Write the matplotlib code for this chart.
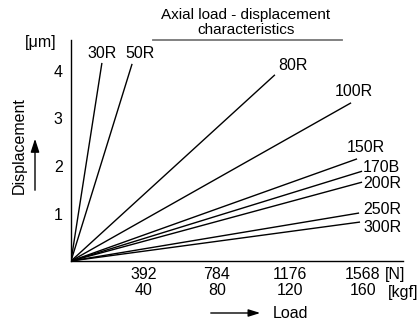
import matplotlib
matplotlib.use("Agg")
import matplotlib.pyplot as plt

# ---- data ----
series = ["30R", "50R", "80R", "100R", "150R", "170B", "200R", "250R", "300R"]
load_end = [166, 328, 1095, 1504, 1536, 1563, 1563, 1547, 1552]      # N
disp_end = [4.17, 4.15, 3.92, 3.33, 2.15, 1.89, 1.66, 1.01, 0.82]     # um
xtick_n = [392, 784, 1176, 1568]
xtick_kgf = [40, 80, 120, 160]
ytick_vals = [1, 2, 3, 4]

# ---- layout ----
W, H = 418, 320
FS = 11.5
plt.rcParams['font.family'] = ['Liberation Sans', 'DejaVu Sans']
fig = plt.figure(figsize=(W / 100, H / 100), dpi=100)

def fx(px): return px / W
def fy(py): return 1 - py / H

x0, y0, x1, y1 = 71, 261, 403, 40
ax = fig.add_axes([fx(x0), fy(y0), fx(x1) - fx(x0), fy(y1) - fy(y0)])
xmax = (x1 - x0) / 73 * 392
ymax = (y0 - y1) / 47.5
ax.set_xlim(0, xmax)
ax.set_ylim(0, ymax)
for s in ("top", "right"):
    ax.spines[s].set_visible(False)
for s in ("left", "bottom"):
    ax.spines[s].set_linewidth(1.0)

for name, lx, ly in zip(series, load_end, disp_end):
    ax.plot([0, lx], [0, ly], color="black", lw=1.0, solid_capstyle="butt")

ax.set_yticks(ytick_vals)
ax.set_yticklabels([str(v) for v in ytick_vals], fontsize=FS)
ax.tick_params(axis="y", length=0, pad=6)
ax.set_xticks(xtick_n)
ax.set_xticklabels([f"{n}\n{k}" for n, k in zip(xtick_n, xtick_kgf)], fontsize=FS,
                   linespacing=1.1)
ax.tick_params(axis="x", length=0, pad=4)

# series labels (pixel positions)
label_pos = {
    "30R": (102, 53, "center"), "50R": (140, 53, "center"),
    "80R": (293, 65, "center"), "100R": (354, 92, "center"),
    "150R": (366, 147, "center"), "170B": (363, 167, "left"),
    "200R": (363, 184, "left"), "250R": (363, 209, "left"),
    "300R": (363, 227, "left"),
}
for name in series:
    px, py, ha = label_pos[name]
    fig.text(fx(px), fy(py), name, ha=ha, va="center", fontsize=FS)

# units
fig.text(fx(41), fy(42), "[μm]", ha="center", va="center", fontsize=FS)
fig.text(fx(385), fy(275), "[N]", ha="left", va="center", fontsize=FS)
fig.text(fx(388), fy(293), "[kgf]", ha="left", va="center", fontsize=FS)

# title with underline
fig.text(fx(246), fy(15), "Axial load - displacement", ha="center", va="center", fontsize=11)
fig.text(fx(246), fy(30), "characteristics", ha="center", va="center", fontsize=11)
fig.add_artist(plt.Line2D([fx(153), fx(342)], [fy(40), fy(40)], color="#777777", lw=1.3))

# axis labels with arrows
fig.text(fx(19), fy(146), "Displacement", rotation=90, ha="center", va="center", fontsize=FS)
fig.add_artist(matplotlib.patches.FancyArrowPatch(
    (fx(35), fy(193)), (fx(35), fy(136)), transform=fig.transFigure,
    arrowstyle="-|>,head_length=8,head_width=2.6", color="black", lw=1.0))
fig.text(fx(273), fy(313), "Load", ha="left", va="center", fontsize=FS)
fig.add_artist(matplotlib.patches.FancyArrowPatch(
    (fx(208), fy(313)), (fx(263), fy(313)), transform=fig.transFigure,
    arrowstyle="-|>,head_length=7,head_width=2.2", color="black", lw=1.0))

fig.savefig("out.png", dpi=100)
